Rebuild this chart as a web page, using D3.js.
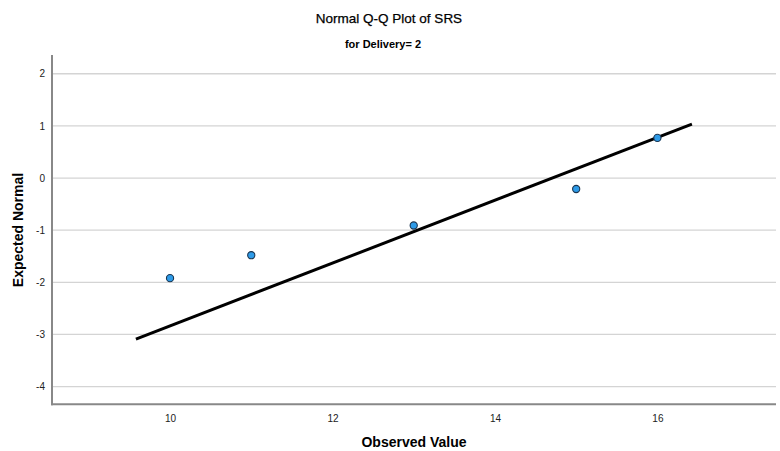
<!DOCTYPE html>
<html>
<head>
<meta charset="utf-8">
<script src="https://cdn.jsdelivr.net/npm/d3@7"></script>
<style>
  html, body { margin: 0; padding: 0; background: #fff; }
  svg { display: block; font-family: "Liberation Sans", Arial, sans-serif; }
</style>
</head>
<body>
<svg id="chart" width="780" height="451"></svg>
<script>
// Data
const observed = [10, 11, 13, 15, 16];
const expected = [-1.92, -1.48, -0.91, -0.21, 0.77];
const lineX = [9.58, 16.425];
const lineY = [-3.09, 1.035];
const xTicks = [10, 12, 14, 16];
const yTicks = [2, 1, 0, -1, -2, -3, -4];
const title = "Normal Q-Q Plot of SRS";
const subtitle = "for Delivery= 2";
const xTitle = "Observed Value";
const yTitle = "Expected Normal";

(function () {
const svg = d3.select("#chart");
const pLeft = 52, pRight = 776, pTop = 55, pBottom = 404.3;

const x = d3.scaleLinear().domain([8.547, 17.46]).range([pLeft, pRight]);
const y = d3.scaleLinear().domain([-4.34, 2.36]).range([pBottom, pTop]);
const fmt = d => String(d);

// gridlines
svg.append("g").selectAll("line").data(yTicks).join("line")
  .attr("x1", pLeft).attr("x2", pRight)
  .attr("y1", d => y(d)).attr("y2", d => y(d))
  .attr("stroke", "#d4d4d4").attr("stroke-width", 1.3);

// y axis
const yAxis = d3.axisLeft(y).tickValues(yTicks).tickSize(0).tickPadding(7).tickFormat(fmt);
const gy = svg.append("g").attr("transform", `translate(${pLeft},0)`).call(yAxis);
gy.select(".domain").remove();
gy.selectAll("text").attr("font-size", 10).attr("fill", "#222");

// x axis
const xAxis = d3.axisBottom(x).tickValues(xTicks).tickSize(0).tickPadding(11).tickFormat(fmt);
const gx = svg.append("g").attr("transform", `translate(0,${pBottom})`).call(xAxis);
gx.select(".domain").remove();
gx.selectAll("text").attr("font-size", 10).attr("fill", "#222");

// axis lines
svg.append("line").attr("x1", pLeft).attr("x2", pLeft).attr("y1", pTop).attr("y2", pBottom + 1)
  .attr("stroke", "#888").attr("stroke-width", 2);
svg.append("line").attr("x1", pLeft - 1).attr("x2", pRight).attr("y1", pBottom).attr("y2", pBottom)
  .attr("stroke", "#888").attr("stroke-width", 2);

// reference line
svg.append("line")
  .attr("x1", x(lineX[0])).attr("y1", y(lineY[0]))
  .attr("x2", x(lineX[1])).attr("y2", y(lineY[1]))
  .attr("stroke", "#000").attr("stroke-width", 3);

// points
svg.append("g").selectAll("circle").data(observed).join("circle")
  .attr("cx", d => x(d)).attr("cy", (d, i) => y(expected[i]))
  .attr("r", 3.6)
  .attr("fill", "#2e9be8").attr("stroke", "#1b3550").attr("stroke-width", 1.1);

// titles
svg.append("text").attr("x", 389).attr("y", 23).attr("text-anchor", "middle")
  .attr("font-size", 13.5).attr("fill", "#000").attr("stroke", "#000").attr("stroke-width", 0.25).text(title);
svg.append("text").attr("x", 383).attr("y", 48).attr("text-anchor", "middle")
  .attr("font-size", 11).attr("font-weight", "bold").attr("fill", "#000").text(subtitle);
svg.append("text").attr("x", 414).attr("y", 447).attr("text-anchor", "middle")
  .attr("font-size", 14).attr("font-weight", "bold").attr("fill", "#000").text(xTitle);
svg.append("text").attr("transform", `translate(23,230) rotate(-90)`).attr("text-anchor", "middle")
  .attr("font-size", 14).attr("font-weight", "bold").attr("fill", "#000").text(yTitle);
})();
</script>
</body>
</html>
